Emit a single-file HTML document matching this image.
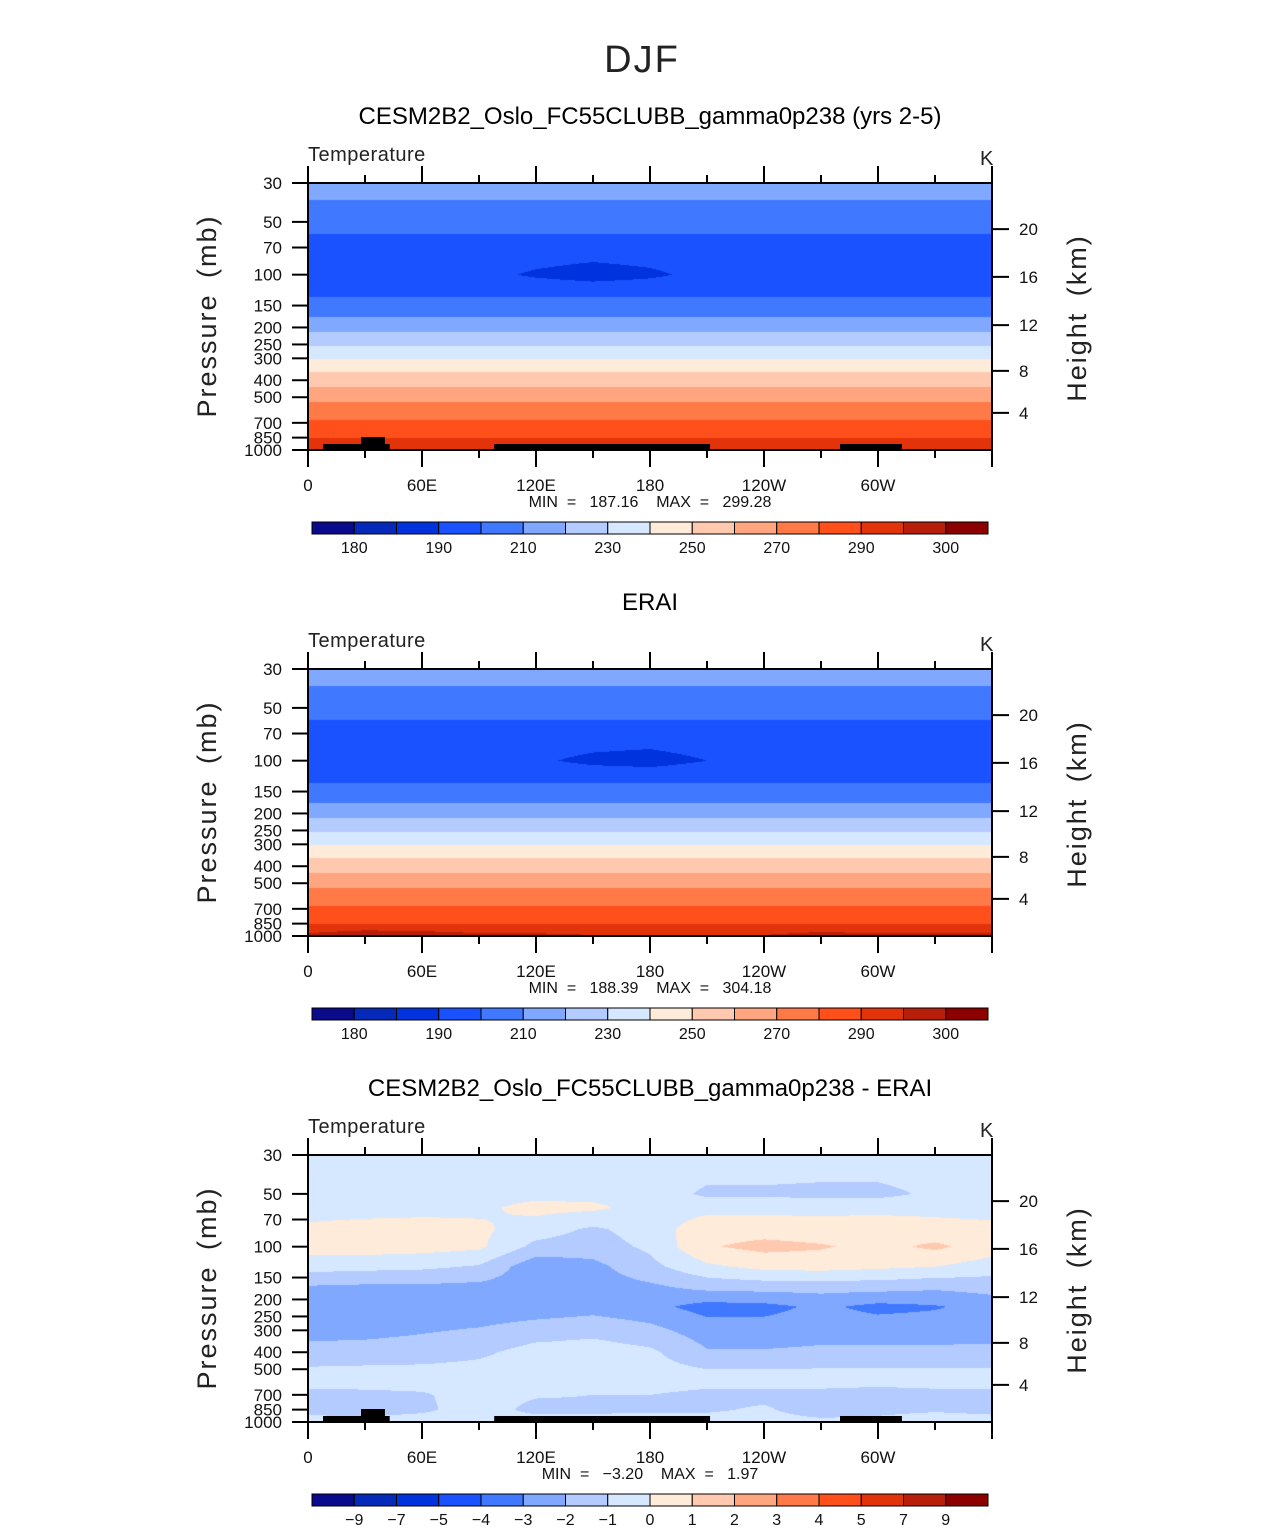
<!DOCTYPE html>
<html><head><meta charset="utf-8">
<style>
body{margin:0;background:#fff;}
#wrap{position:relative;width:1285px;height:1531px;overflow:hidden;background:#fff;font-family:"Liberation Sans",sans-serif;}
canvas{position:absolute;}
svg{position:absolute;left:0;top:0;}
.pre{white-space:pre;}
</style></head>
<body>
<div id="wrap">
<canvas id="c1" width="684" height="267" style="left:308px;top:183px"></canvas>
<canvas id="c2" width="684" height="267" style="left:308px;top:669px"></canvas>
<canvas id="c3" width="684" height="267" style="left:308px;top:1155px"></canvas>
<svg id="s" width="1285" height="1531"></svg>
</div>
<script>
// ---- data ----
const colors=["#0a0a8c","#0529b8","#0033dd","#1a52ff","#4078ff","#80a8ff","#b3cbff","#d6e8ff","#ffebd9","#ffc9b0","#ffa680","#ff7a47","#ff4f1a","#e3330a","#b81f0a","#8c0000"];
const tempLevels=[180,185,190,200,210,220,230,240,250,260,270,280,290,295,300];
const tempLabels=["180","","190","","210","","230","","250","","270","","290","","300"];
const diffLevels=[-9,-7,-5,-4,-3,-2,-1,0,1,2,3,4,5,7,9];
const diffLabels=["−9","−7","−5","−4","−3","−2","−1","0","1","2","3","4","5","7","9"];
const lonNodes=[0,30,60,90,120,150,180,210,240,270,300,330,360];
const profP=[30,37.5,58.6,100,134,174,212,255,302,359,437,532,675,855,1000];
const modelProfile=[213,210,200,193,200,210,220,230,240,250,260,270,280,290,293];
const eraiProfile=[214,210,200,193,200,210,220,230,240,250,260,270,280,290,296.5];
// anomalies along longitude at 100 mb and 1000 mb
const modelCoreAnom=[1,1,0.5,0,-4.5,-7.5,-5,0,0.5,1,1,1,1];
const modelSurfAnom=[1,1,0,-1,-1,-1,-1,-1,0,1,0,0,1];
const eraiCoreAnom=[1,1,1,0.5,-1.5,-5.5,-7,-3,0,1,1,1,1];
const eraiSurfAnom=[0,3,2,0,0,-1,-1,-1,-1,1,0,0,0];
const diffP=[30,50,60,80,100,130,170,220,300,400,550,700,850,1000];
const diffGrid=[
[-0.3,-0.3,-0.3,-0.3,-0.3,-0.3,-0.3,-0.3,-0.3,-0.3,-0.3,-0.3,-0.3],
[-0.3,-0.3,-0.3,-0.3,-0.3,-0.3,-0.4,-1.2,-1.2,-1.3,-1.3,-0.8,-0.3],
[-0.4,-0.4,-0.3,-0.2,0.3,0.2,-0.4,-0.3,-0.3,-0.3,-0.3,-0.3,-0.4],
[0.2,0.4,0.4,0.2,-0.5,-1.2,-0.5,0.6,0.6,0.5,0.6,0.4,0.3],
[0.4,0.5,0.4,0.2,-1.3,-1.5,-0.8,0.9,1.3,1.1,0.7,1.2,0.5],
[-0.6,-0.7,-0.8,-1.1,-2.7,-2.3,-1.3,-0.2,0.3,0.4,0.2,0.0,-0.5],
[-2.1,-2.2,-2.2,-2.3,-2.5,-2.5,-2.2,-1.7,-1.6,-1.6,-1.6,-1.8,-1.6],
[-2.6,-2.7,-2.7,-2.7,-2.6,-2.4,-2.7,-3.4,-3.3,-2.8,-3.3,-3.1,-2.6],
[-2.4,-2.3,-2.1,-1.9,-1.5,-1.3,-1.7,-2.5,-2.6,-2.4,-2.4,-2.4,-2.3],
[-1.6,-1.6,-1.5,-1.2,-0.6,-0.5,-0.8,-1.9,-1.9,-1.8,-1.8,-1.8,-1.8],
[-0.6,-0.5,-0.5,-0.5,-0.3,-0.3,-0.5,-0.6,-0.6,-0.6,-0.6,-0.6,-0.6],
[-1.2,-1.2,-1.1,-0.6,-0.9,-1.0,-1.0,-1.2,-1.2,-1.2,-1.3,-1.2,-1.2],
[-1.3,-1.5,-1.2,-0.5,-1.3,-1.2,-1.1,-1.1,-0.9,-1.4,-1.2,-1.1,-1.2],
[-0.6,-0.6,-0.5,-0.5,-0.5,-0.6,-0.7,-0.7,-0.7,-0.8,-0.8,-0.6,-0.7]];
// topography blocks
const topoStart=[7.9,27.9,98,280];
const topoEnd=[43,40.5,211.6,312.6];
const topoTop=[924,843,924,924];
const pTicks=[30,50,70,100,150,200,250,300,400,500,700,850,1000];
const hTicks=[20,16,12,8,4];
const hTickP=[55,103,194,354,614];
const lonTickVals=[0,60,120,180,240,300];
const lonTickLabels=["0","60E","120E","180","120W","60W"];
const titles=["CESM2B2_Oslo_FC55CLUBB_gamma0p238 (yrs 2-5)","ERAI","CESM2B2_Oslo_FC55CLUBB_gamma0p238 - ERAI"];
const minmax=[["187.16","299.28"],["188.39","304.18"],["−3.20","1.97"]];

// ---- helpers ----
const PX=308,PW=684,PH=267;
const tops=[183,669,1155];
const L0=Math.log(30),LR=Math.log(1000/30);
function yOf(p){return PH*(Math.log(p)-L0)/LR;}
function xOf(lon){return PW*lon/360;}
function pOf(y){return Math.exp(L0+y/PH*LR);}
const logP=a=>a.map(v=>Math.log(v));
function buildGrid(profile,coreAnom,surfAnom){
  return profP.map((p,i)=>lonNodes.map((l,j)=>profile[i]+(p===100?coreAnom[j]:0)+(p===1000?surfAnom[j]:0)));
}
function fill(id,grid,ps,levels){
  const cv=document.getElementById(id),ctx=cv.getContext('2d');
  const img=ctx.createImageData(PW,PH);
  const lps=logP(ps);
  const rgb=colors.map(c=>[parseInt(c.substr(1,2),16),parseInt(c.substr(3,2),16),parseInt(c.substr(5,2),16)]);
  for(let y=0;y<PH;y++){
    const lp=Math.log(pOf(y+0.5));
    let k=0;while(k<lps.length-2&&lp>lps[k+1])k++;
    const ty=Math.max(0,Math.min(1,(lp-lps[k])/(lps[k+1]-lps[k])));
    for(let x=0;x<PW;x++){
      const lon=(x+0.5)/PW*360;
      let j=Math.min(lonNodes.length-2,Math.floor(lon/30));
      const tx=(lon-lonNodes[j])/30;
      const a=grid[k][j]*(1-tx)+grid[k][j+1]*tx;
      const b=grid[k+1][j]*(1-tx)+grid[k+1][j+1]*tx;
      const v=a*(1-ty)+b*ty;
      let c=0;while(c<levels.length&&v>=levels[c])c++;
      const o=(y*PW+x)*4,col=rgb[c];
      img.data[o]=col[0];img.data[o+1]=col[1];img.data[o+2]=col[2];img.data[o+3]=255;
    }
  }
  ctx.putImageData(img,0,0);
}
fill('c1',buildGrid(modelProfile,modelCoreAnom,modelSurfAnom),profP,tempLevels);
fill('c2',buildGrid(eraiProfile,eraiCoreAnom,eraiSurfAnom),profP,tempLevels);
fill('c3',diffGrid,diffP,diffLevels);

// ---- svg ----
const S=document.getElementById('s'),NS='http://www.w3.org/2000/svg';
function mk(tag,at,parent){const e=document.createElementNS(NS,tag);for(const k in at)e.setAttribute(k,at[k]);(parent||S).appendChild(e);return e;}
function txt(x,y,s,size,anchor,parent,extra){const e=mk('text',Object.assign({x:x,y:y,'font-size':size,'text-anchor':anchor||'start',fill:'#000'},extra||{}),parent);e.textContent=s;return e;}

const t0=txt(642,72,'DJF',38,'middle',S,{fill:'#222','letter-spacing':'2'});



for(let pi=0;pi<3;pi++){
  const T=tops[pi];
  const g=mk('g',{});
  
  
  const tt=txt(650,T-59,titles[pi],24,'middle',g);
  
  
  const tv=txt(308,T-22,'Temperature',20,'start',g,{fill:'#222','letter-spacing':'0.5'});
  
  
  const tk=txt(980,T-18,'K',20,'start',g,{fill:'#222'});
  
  
  if(pi!==1){
    for(let i=0;i<topoStart.length;i++){
      const r=mk('rect',{x:PX+xOf(topoStart[i]),y:T+yOf(topoTop[i]),width:xOf(topoEnd[i])-xOf(topoStart[i]),height:PH-yOf(topoTop[i]),fill:'#000'},g);
      
      
    }
  }
  const fr=mk('rect',{x:PX,y:T,width:PW,height:PH,fill:'none',stroke:'#000','stroke-width':2},g);
  
  
  pTicks.forEach(p=>{
    const y=T+yOf(p);
    mk('line',{x1:PX-16,x2:PX,y1:y,y2:y,stroke:'#000','stroke-width':2},g);
    const l=txt(282,y+6,String(p),17,'end',g,{fill:'#111'});
    
    
  });
  hTicks.forEach((h,i)=>{
    const y=T+yOf(hTickP[i]);
    mk('line',{x1:PX+PW,x2:PX+PW+17,y1:y,y2:y,stroke:'#000','stroke-width':2},g);
    const l=txt(1019,y+6,String(h),17,'start',g,{fill:'#111'});
    
    
  });
  for(let lon=0;lon<=360;lon+=30){
    const x=PX+xOf(lon),maj=lon%60===0;
    const len=maj?17:8;
    mk('line',{x1:x,x2:x,y1:T-len,y2:T,stroke:'#000','stroke-width':2},g);
    mk('line',{x1:x,x2:x,y1:T+PH,y2:T+PH+len,stroke:'#000','stroke-width':2},g);
  }
  lonTickVals.forEach((lon,i)=>{
    const l=txt(PX+xOf(lon),T+PH+41,lonTickLabels[i],17,'middle',g,{fill:'#111'});
    
    
  });
  const mm=txt(650,T+PH+57,'MIN  =   '+minmax[pi][0]+'    MAX  =   '+minmax[pi][1],16,'middle',g,{fill:'#111','class':'pre'});
  
  
  const ya=txt(0,0,'Pressure (mb)',27,'middle',g,{transform:'translate(216,'+(T+133)+') rotate(-90)',fill:'#222','letter-spacing':'2','word-spacing':'6'});
  
  
  const yb=txt(0,0,'Height (km)',27,'middle',g,{transform:'translate(1086,'+(T+135)+') rotate(-90)',fill:'#222','letter-spacing':'2','word-spacing':'6'});
  
  
  const cb=mk('g',{},g);
  
  
  const cy=T+339,bw=676/16;
  const labs=pi===2?diffLabels:tempLabels;
  colors.forEach((c,i)=>{
    const r=mk('rect',{x:312+i*bw,y:cy,width:bw,height:12,fill:c,stroke:'#000','stroke-width':1},cb);
    
    
  });
  labs.forEach((s,i)=>{
    if(!s)return;
    const l=txt(312+(i+1)*bw,cy+31,s,16,'middle',cb,{fill:'#111'});
    
    
  });
}
</script>
</body></html>
